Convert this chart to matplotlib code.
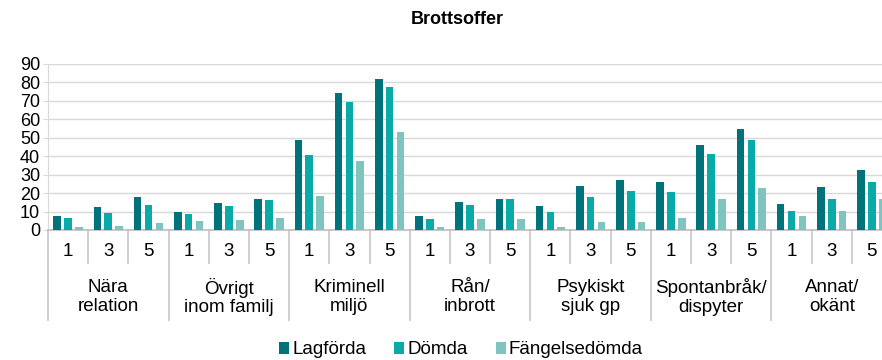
import matplotlib
matplotlib.use("Agg")
import matplotlib.pyplot as plt
import matplotlib.transforms as mtransforms
import numpy as np

plt.rcParams['font.family'] = ['Liberation Sans', 'DejaVu Sans']

groups = ["Nära\nrelation", "Övrigt\ninom familj", "Kriminell\nmiljö", "Rån/\ninbrott",
          "Psykiskt\nsjuk gp", "Spontanbråk/\ndispyter", "Annat/\nokänt"]
years = ["1", "3", "5"]
series = ["Lagförda", "Dömda", "Fängelsedömda"]
colors = ["#00727A", "#0AAAA9", "#80C4C0"]

# one value per (group, year), in group order
lagforda = [7.6, 12.5, 17.9, 9.9, 14.6, 16.8, 48.8, 74.3, 81.7, 7.4, 15.0, 16.8,
            13.0, 23.7, 26.9, 25.8, 46.1, 54.6, 13.9, 23.3, 32.4]
domda = [6.7, 9.2, 13.4, 8.5, 13.0, 16.1, 40.8, 69.2, 77.4, 6.0, 13.6, 16.8,
         9.9, 17.7, 20.9, 20.4, 41.0, 48.6, 10.1, 16.8, 26.0]
fangelse = [1.6, 2.2, 3.8, 4.7, 5.4, 6.5, 18.2, 37.6, 53.1, 1.6, 6.0, 6.1,
            1.6, 4.3, 4.5, 6.5, 16.8, 22.8, 7.6, 10.5, 16.8]

W, H = 882, 360
fig = plt.figure(figsize=(W / 100, H / 100), dpi=100)
# plot area runs a little past the right edge of the figure
ax = fig.add_axes([48 / W, 130 / H, 844 / W, 166 / H])

n = len(lagforda)
x = np.arange(n) + 0.5
step, bw = 0.27, 0.19
for k, (vals, col, name) in enumerate(zip([lagforda, domda, fangelse], colors, series)):
    ax.bar(x + (k - 1) * step, vals, bw, color=col, label=name, zorder=3)

ax.set_xlim(0, n)
ax.set_ylim(0, 90)
ax.set_yticks(range(0, 91, 10))
ax.yaxis.grid(True, color="#D9D9D9", linewidth=1.0, zorder=0)
ax.set_xticks([])
for s in ["top", "right"]:
    ax.spines[s].set_visible(False)
ax.spines["left"].set_color("#D9D9D9")
ax.spines["bottom"].set_color("#BFBFBF")
ax.spines["bottom"].set_linewidth(1.2)
ax.tick_params(axis="y", length=3.6, color="#D9D9D9", pad=2, labelsize=13)

trans = mtransforms.blended_transform_factory(ax.transData, ax.transAxes)
# separators between years and between groups
for i in range(n + 1):
    bottom = -0.542 if i % 3 == 0 else -0.199
    ax.plot([i, i], [0, bottom], color="#CFCFCF", linewidth=1.4,
            transform=trans, clip_on=False)
for i in range(n):
    ax.text(i + 0.5, -0.131, years[i % 3], transform=trans, ha="center",
            va="center", fontsize=13.5)
for g, label in enumerate(groups):
    ax.text(g * 3 + 1.5, -0.404, label, transform=trans, ha="center",
            va="center", fontsize=13.5, linespacing=1.1)

fig.text(457 / W, 1 - 20 / H, "Brottsoffer", ha="center", va="center",
         fontsize=13, fontweight="bold")

fig.legend(loc="center", bbox_to_anchor=(461 / W, 1 - 350 / H), ncol=3,
           frameon=False, fontsize=13.5, handlelength=0.55, handleheight=0.55,
           handletextpad=0.15, columnspacing=1.5, borderpad=0)

fig.savefig("out.png", dpi=100)
